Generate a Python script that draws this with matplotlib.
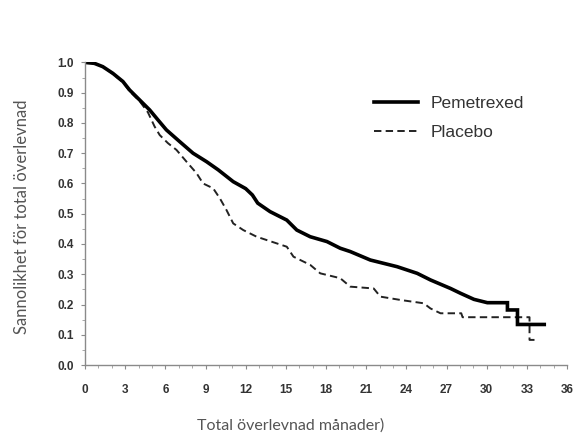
import numpy as np
import matplotlib.pyplot as plt
from matplotlib.ticker import MultipleLocator

# Kaplan-Meier estimates, months vs survival probability
pem_months = [0, 0.7, 1.33, 2.08, 2.83, 3.33, 4.08, 4.83, 5.45, 6.08, 7.08, 8.07,
              9.08, 9.95, 11.07, 12.0, 12.5, 12.9, 13.82, 15.07, 15.82, 16.82, 18.07,
              19.06, 19.81, 21.31, 23.31, 24.81, 25.81, 27.3, 28.05, 29.05, 30.05,
              31.55, 31.55, 32.3, 32.3, 34.3]
pem_surv = [1.0, 0.997, 0.986, 0.964, 0.937, 0.909, 0.876, 0.843, 0.81, 0.777, 0.738, 0.70,
            0.672, 0.645, 0.606, 0.583, 0.562, 0.535, 0.507, 0.479, 0.446, 0.424, 0.408,
            0.386, 0.375, 0.347, 0.325, 0.303, 0.281, 0.253, 0.237, 0.217, 0.206,
            0.206, 0.182, 0.182, 0.134, 0.134]

pla_months = [0, 0.7, 1.33, 2.08, 2.83, 3.33, 4.08, 4.7, 5.2, 5.58, 6.2, 6.83,
              7.58, 8.33, 8.82, 9.57, 10.07, 10.57, 11.07, 11.82, 12.82, 14.32,
              15.07, 15.57, 16.82, 17.57, 19.06, 19.81, 21.56, 22.06, 23.56, 25.3,
              25.8, 26.55, 28.1, 28.2, 33.2, 33.2, 33.8]
pla_surv = [1.0, 0.997, 0.986, 0.962, 0.935, 0.905, 0.872, 0.835, 0.788, 0.76, 0.733, 0.711,
            0.672, 0.634, 0.60, 0.584, 0.551, 0.512, 0.468, 0.446, 0.424, 0.402,
            0.391, 0.358, 0.331, 0.303, 0.287, 0.259, 0.253, 0.226, 0.215, 0.204,
            0.187, 0.171, 0.171, 0.158, 0.158, 0.083, 0.083]

xticks = np.arange(0, 37, 3)
yticks = np.round(np.arange(0, 1.01, 0.1), 1)

tick_font = 'Liberation Sans'

fig = plt.figure(figsize=(5.79, 4.36), dpi=100)
ax = fig.add_axes([0.1468, 0.1628, 0.8325, 0.694])

ax.plot(pla_months, pla_surv, color='#222222', lw=1.4, ls=(0, (3.8, 2.2)), label='Placebo')
ax.plot(pem_months, pem_surv, color='black', lw=2.6, label='Pemetrexed',
        solid_joinstyle='miter')

ax.set_xlim(0, 36)
ax.set_ylim(0, 1.0)
ax.set_xticks(xticks)
ax.set_yticks(yticks)
ax.set_yticklabels(['%.1f' % v for v in yticks])
ax.xaxis.set_minor_locator(MultipleLocator(1))
ax.yaxis.set_minor_locator(MultipleLocator(0.05))

for s in ['top', 'right']:
    ax.spines[s].set_visible(False)
for s in ['left', 'bottom']:
    ax.spines[s].set_color('#8a8a8a')
    ax.spines[s].set_linewidth(1.0)

ax.tick_params(which='major', length=3, width=0.8, color='#8a8a8a', direction='out',
               labelsize=8.5, labelcolor='#333333')
ax.tick_params(which='minor', length=2, width=0.6, color='#9a9a9a', direction='out')
for lbl in ax.get_xticklabels() + ax.get_yticklabels():
    lbl.set_fontfamily(tick_font)
    lbl.set_fontweight('bold')
ax.tick_params(axis='x', pad=11)
ax.tick_params(axis='y', pad=5)

ax.set_ylabel('Sannolikhet för total överlevnad', fontsize=12, color='#555555',
              family='Lato')
ax.yaxis.set_label_coords(-0.115, 0.49)
ax.set_xlabel('Total överlevnad månader)', fontsize=11.5, color='#555555',
              family='Lato')
ax.xaxis.set_label_coords(0.427, -0.175)

handles, labels = ax.get_legend_handles_labels()
leg = ax.legend(handles[::-1], labels[::-1], loc='upper left',
                bbox_to_anchor=(0.6, 0.888), frameon=False, borderpad=0,
                borderaxespad=0, handlelength=2.5, handletextpad=0.75,
                labelspacing=0.78,
                prop={'family': tick_font, 'size': 12.5})
for t in leg.get_texts():
    t.set_color('#333333')

fig.savefig('out.png', dpi=100)
